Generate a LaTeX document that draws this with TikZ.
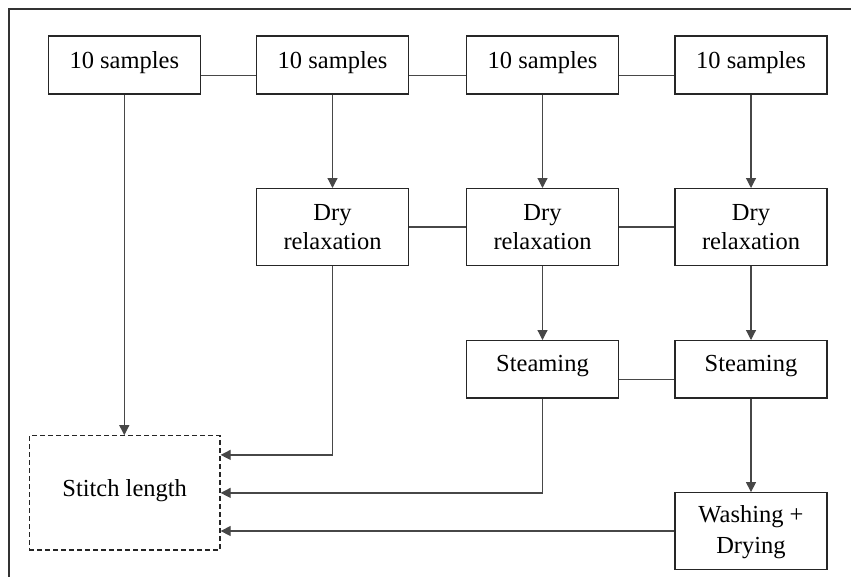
\documentclass[tikz,border=0pt]{standalone}
\usepackage{fontspec}
\setmainfont{Liberation Serif}
\usetikzlibrary{arrows.meta,calc}
\tikzset{
  box/.style={draw=black!85, line width=1.3pt, inner sep=0pt, minimum width=152pt},
  smallbox/.style={box, minimum height=58pt},
  tallbox/.style={box, minimum height=76.5pt},
  dashbox/.style={draw=black!85, line width=1.2pt, dash pattern=on 5pt off 3pt, inner sep=0pt, minimum width=190.7pt, minimum height=114.3pt},
  txt/.style={font=\fontsize{24.5}{30}\selectfont, inner sep=0pt, anchor=base, align=center},
  conn/.style={draw=black!72, line width=1.2pt},
  arr/.style={conn, -{Triangle[length=10pt,width=10pt]}},
  frame/.style={draw=black!80, line width=1.3pt}
}
\begin{document}
\begin{tikzpicture}[x=1pt,y=-1pt]
\useasboundingbox (0,0) rectangle (851,576);
\draw[frame] (9,580) -- (9,9) -- (855,9);
% row 1
\node[smallbox] (b1) at (124.3,65) {};
\node[smallbox] (b2) at (332.5,65) {};
\node[smallbox] (b3) at (542.5,65) {};
\node[smallbox] (b4) at (751,65) {};
\node[txt] (t1) at (124.3,68) {10 samples};
\node[txt] (t2) at (332.5,68) {10 samples};
\node[txt] (t3) at (542.5,68) {10 samples};
\node[txt] (t4) at (751,68) {10 samples};
% row 2
\node[tallbox] (d2) at (332.5,226.9) {};
\node[tallbox] (d3) at (542.5,226.9) {};
\node[tallbox] (d4) at (751,226.9) {};
\node[txt] (td2a) at (332.5,220) {Dry};
\node[txt] (td2b) at (332.5,249.5) {relaxation};
\node[txt] (td3a) at (542.5,220) {Dry};
\node[txt] (td3b) at (542.5,249.5) {relaxation};
\node[txt] (td4a) at (751,220) {Dry};
\node[txt] (td4b) at (751,249.5) {relaxation};
% row 3
\node[smallbox, minimum height=57.3pt] (s3) at (542.5,369.3) {};
\node[smallbox, minimum height=57.3pt] (s4) at (751,369.3) {};
\node[txt] (ts3) at (542.5,371.7) {Steaming};
\node[txt] (ts4) at (751,371.7) {Steaming};
% row 4
\node[tallbox] (w4) at (751,531) {};
\node[txt] (tw4a) at (751,522.7) {Washing +};
\node[txt] (tw4b) at (751,553.3) {Drying};
% stitch length
\node[dashbox] (st) at (124.7,492.9) {};
\node[txt] (tst) at (124.7,496.7) {Stitch length};
% horizontal links
\draw[conn] ([yshift=19pt]b1.south east) -- ([yshift=19pt]b2.south west);
\draw[conn] ([yshift=19pt]b2.south east) -- ([yshift=19pt]b3.south west);
\draw[conn] ([yshift=19pt]b3.south east) -- ([yshift=19pt]b4.south west);
\draw[conn] (d2.east) -- (d3.west);
\draw[conn] (d3.east) -- (d4.west);
\draw[conn] ([yshift=19pt]s3.south east) -- ([yshift=19pt]s4.south west);
% arrows down
\draw[arr] (b1.south) -- (b1.south |- st.north);
\draw[arr] (b2.south) -- (d2.north);
\draw[arr] (b3.south) -- (d3.north);
\draw[arr] (b4.south) -- (d4.north);
\draw[arr] (d3.south) -- (s3.north);
\draw[arr] (d4.south) -- (s4.north);
\draw[arr] (s4.south) -- (w4.north);
% arrows into stitch length
\draw[arr] (d2.south) |- ([yshift=38pt]st.east);
\draw[arr] (s3.south) |- (st.east);
\draw[arr] (w4.west) -- (w4.west -| st.east);
\end{tikzpicture}
\end{document}
